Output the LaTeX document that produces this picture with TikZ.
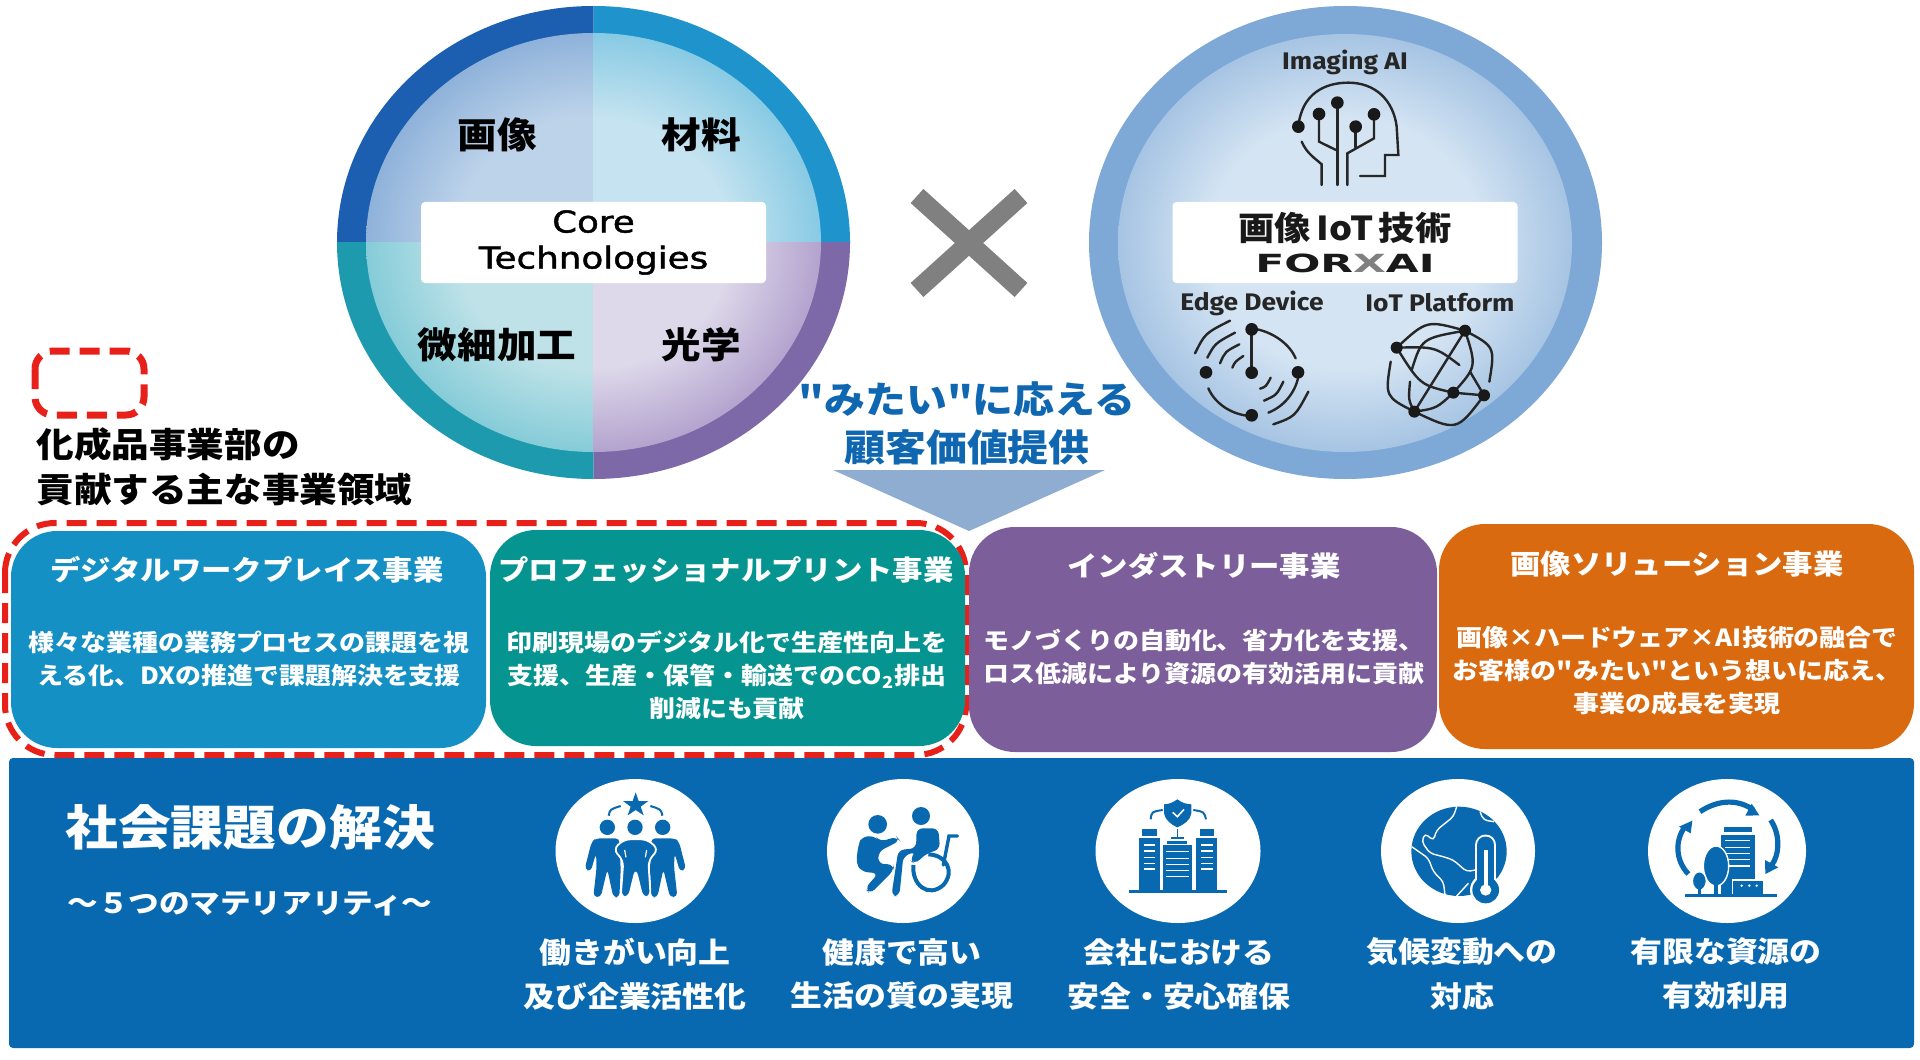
\documentclass[tikz,border=0pt]{standalone}
\usepackage{fontspec}
\usetikzlibrary{shapes.geometric}
\setmainfont{Noto Sans CJK JP}[FakeStretch=1.1]
\newfontfamily\straightfont{Noto Sans CJK JP}[FakeStretch=1.1]
\newfontfamily\corefont{DejaVu Sans}[FakeStretch=1.19, FakeBold=1.5]
\newfontfamily\aifont{Fira Sans}[FakeStretch=1.1]
\newfontfamily\forxfont{DejaVu Sans}[FakeStretch=1.7]
\newcommand{\dq}{{\straightfont"}}

\definecolor{ringtl}{HTML}{1C5FB0}
\definecolor{ringtr}{HTML}{1E93CC}
\definecolor{ringbl}{HTML}{1E9AAE}
\definecolor{ringbr}{HTML}{7D68A8}
\definecolor{tlin}{HTML}{BDD3EA}
\definecolor{tlout}{HTML}{8FB2DA}
\definecolor{trin}{HTML}{C5E3F0}
\definecolor{trout}{HTML}{88CAE4}
\definecolor{blin}{HTML}{BFE2E8}
\definecolor{blout}{HTML}{85CCD8}
\definecolor{brin}{HTML}{DDD8EA}
\definecolor{brout}{HTML}{B3A3CE}
\definecolor{forxring}{HTML}{7EA8D6}
\definecolor{forxin}{HTML}{D4E4F3}
\definecolor{forxout}{HTML}{A6C4E3}
\definecolor{barblue}{HTML}{0868B0}
\definecolor{workblue}{HTML}{1490C4}
\definecolor{printgreen}{HTML}{069490}
\definecolor{induspurple}{HTML}{7C5E9A}
\definecolor{solorange}{HTML}{D96A10}
\definecolor{reddash}{HTML}{E8201A}
\definecolor{arrowblue}{HTML}{8FADD0}
\definecolor{valueblue}{HTML}{0F67B1}

\pgfdeclareradialshading[tlin,tlout]{shtl}{\pgfpointorigin}{color(0bp)=(tlin); color(15bp)=(tlin); color(25bp)=(tlout); color(50bp)=(tlout)}
\pgfdeclareradialshading[trin,trout]{shtr}{\pgfpointorigin}{color(0bp)=(trin); color(15bp)=(trin); color(25bp)=(trout); color(50bp)=(trout)}
\pgfdeclareradialshading[blin,blout]{shbl}{\pgfpointorigin}{color(0bp)=(blin); color(15bp)=(blin); color(25bp)=(blout); color(50bp)=(blout)}
\pgfdeclareradialshading[brin,brout]{shbr}{\pgfpointorigin}{color(0bp)=(brin); color(15bp)=(brin); color(25bp)=(brout); color(50bp)=(brout)}
\pgfdeclareradialshading[forxin,forxout]{shforx}{\pgfpointorigin}{color(0bp)=(forxin); color(15bp)=(forxin); color(25bp)=(forxout); color(50bp)=(forxout)}

\tikzset{
	whitebar/.style={fill=white, rounded corners=2pt, minimum width=172.5pt, minimum height=40.5pt, inner sep=0pt},
	quadtext/.style={font=\fontsize{18}{20}\selectfont\bfseries, text=black},
	bizbox/.style={rounded corners=23pt, inner sep=0pt},
	biztitle/.style={font=\fontsize{13.8}{16}\selectfont\bfseries, text=white},
	bizbody/.style={font=\fontsize{11.8}{16.6}\selectfont\bfseries, text=white, align=center},
	areadash/.style={draw=reddash, line width=3pt, dash pattern=on 10pt off 5pt},
	iconback/.style={ellipse, fill=white, inner sep=0pt, minimum height=72pt},
	iconlabel/.style={font=\fontsize{14.5}{16}\selectfont\bfseries, text=white},
	zoomframe/.style={shift={(#1)}, x=0.16667pt, y=-0.16667pt},
	blackline/.style={draw=black!85, line width=1.2pt, line cap=round},
	blackdot/.style={fill=black!90},
	aititle/.style={font=\aifont\fontsize{12}{14}\selectfont\bfseries, text=black!85},
}

\begin{document}
\begin{tikzpicture}[x=0.5pt, y=-0.5pt]
	\useasboundingbox (0,0) rectangle (1920,1059);
	\fill[white] (0,0) rectangle (1920,1059);

	\foreach \sx/\sy/\ringc/\shd in {-1/-1/ringtl/shtl, 1/-1/ringtr/shtr, -1/1/ringbl/shbl, 1/1/ringbr/shbr}
		{\begin{scope}
			\clip (593.5,242.5) rectangle ++(\sx*300,\sy*300);
			\fill[\ringc] (593.5,242.5) ellipse [x radius=256.5, y radius=236.5];
			\shade[shading=\shd] (593.5,242.5) ellipse [x radius=227.5, y radius=209.5];
		\end{scope}}
	\node[whitebar, align=center, font=\corefont\fontsize{15}{18}\selectfont] (corebar) at (593.5,242.5) {Core\\Technologies};
	\node[quadtext] (imgtext) at (497,135) {画像};
	\node[quadtext] (mattext) at (701,135) {材料};
	\node[quadtext] (fabtext) at (497,345) {微細加工};
	\node[quadtext] (opttext) at (701,345) {光学};

	\draw[gray, line width=9.5pt] (917,196) -- (1021,290);
	\draw[gray, line width=9.5pt] (1021,196) -- (917,290);

	\fill[forxring] (1345.5,242.5) ellipse [x radius=256.5, y radius=236.5];
	\shade[shading=shforx] (1345,243) ellipse [x radius=227, y radius=209];
	\node[whitebar] (forxbar) at (1345,242.5) {};
	\node[font=\fontsize{16.5}{18}\selectfont\bfseries, text=black!90] (forxjp) at (1345,228) {画像\,IoT\,技術};
	\node[font=\forxfont\fontsize{12.5}{14}\selectfont\bfseries, text=black!90] (forxname) at (1345,263) {FOR{\color{gray}X}AI};
	\node[aititle] (aitext) at (1345,62) {Imaging AI};
	\node[aititle] (edgetext) at (1252,303) {Edge Device};
	\node[aititle] (iottext) at (1440,303) {IoT Platform};

	% head
	\begin{scope}[zoomframe={1260,70}]
		\draw[blackline] (115,170) .. controls (125,70) and (195,38) .. (265,38) .. controls (345,38) and (400,90) .. (410,170) -- (415,255) -- (375,255) -- (375,318) -- (300,318);
		\draw[blackline] (125,215) .. controls (140,250) and (165,265) .. (185,283) -- (185,345);
		\draw[blackline] (177,132) -- (177,215) -- (228,240);
		\draw[blackline] (232,98) -- (232,345);
		\draw[blackline] (287,170) -- (287,232);
		\draw[blackline] (342,133) -- (342,205) -- (262,250) -- (262,345);
		\foreach \dx/\dy in {115/170, 177/132, 232/98, 287/170, 342/133}
			{\fill[blackdot] (\dx,\dy) circle [radius=19];}
	\end{scope}

	% edge device and iot platform
	\begin{scope}[zoomframe={1180,310}]
		\draw[blackline, line width=1.6pt] (215,58) -- (215,188);
		\draw[blackline] (232,58) .. controls (285,70) and (330,105) .. (347,145);
		\draw[blackline] (85,235) .. controls (105,280) and (150,310) .. (200,317);
		\draw[blackline] (355,200) .. controls (345,250) and (310,290) .. (265,308);
		\draw[blackline] (240,236) .. controls (258,230) .. (272,203);
		\draw[blackline] (252,272) .. controls (290,255) .. (310,215);
		\draw[blackline] (280,343) .. controls (345,320) .. (385,245);
		\draw[blackline] (45,130) .. controls (75,70) .. (150,32);
		\draw[blackline] (82,143) .. controls (105,100) .. (165,68);
		\draw[blackline] (120,160) .. controls (135,125) .. (178,103);
		\draw[blackline] (157,173) .. controls (165,155) .. (190,138);
		\foreach \dx/\dy in {215/58, 215/188, 78/187, 354/187, 215/316}
			{\fill[blackdot] (\dx,\dy) circle [radius=19];}

		\draw[blackline] (650,113) .. controls (740,30) .. (855,62);
		\draw[blackline] (855,62) .. controls (945,110) .. (928,215);
		\draw[blackline] (632,155) .. controls (615,260) .. (703,305);
		\draw[blackline] (703,305) .. controls (830,365) .. (912,256);
		\draw[blackline] (855,62) -- (703,305);
		\draw[blackline] (650,113) .. controls (720,225) .. (820,248) -- (912,256);
		\draw[blackline] (855,62) .. controls (890,170) .. (820,248);
		\draw[blackline] (855,62) .. controls (725,85) .. (695,180);
		\draw[blackline] (650,113) .. controls (765,110) .. (838,165);
		\draw[blackline] (870,185) -- (912,256);
		\draw[blackline] (703,305) .. controls (770,295) .. (820,248);
		\draw[blackline] (690,215) .. controls (685,270) .. (703,305);
		\foreach \dx/\dy in {650/113, 855/62, 820/248, 912/256, 703/305}
			{\fill[blackdot] (\dx,\dy) circle [radius=18];}
	\end{scope}

	\draw[areadash, line width=3.5pt, rounded corners=9pt] (35,351) rectangle (144,415);
	\node[anchor=west, align=left, inner sep=0pt, font=\fontsize{17.1}{22.5}\selectfont\bfseries] (areatext) at (36,467) {化成品事業部の\\貢献する主な事業領域};

	\node[align=center, text=valueblue, font=\fontsize{18.6}{24}\selectfont\bfseries] (valuetext) at (967,423) {\dq みたい\dq に応える\\顧客価値提供};
	\fill[arrowblue] (833,470) -- (1105,470) -- (969,531) -- cycle;

	\draw[areadash, rounded corners=25pt] (5,523) rectangle (966,755);
	\node[bizbox, fill=workblue, minimum width=237.5pt, minimum height=108.5pt] (workbox) at (248.5,639.5) {};
	\node[bizbox, fill=printgreen, minimum width=237.5pt, minimum height=108pt] (printbox) at (727.5,638) {};
	\node[bizbox, fill=induspurple, minimum width=234pt, minimum height=112.5pt] (indusbox) at (1203,639.5) {};
	\node[bizbox, fill=solorange, minimum width=237.5pt, minimum height=112.5pt] (solbox) at (1676.5,636.5) {};
	\node[biztitle] (worktitle) at (247,570) {デジタルワークプレイス事業};
	\node[biztitle] (printtitle) at (726,570) {プロフェッショナルプリント事業};
	\node[biztitle] (industitle) at (1204,566) {インダストリー事業};
	\node[biztitle] (soltitle) at (1677,564) {画像ソリューション事業};
	\node[bizbody] (workbody) at (249,659) {様々な業種の業務プロセスの課題を視\\える化、DXの推進で課題解決を支援};
	\node[bizbody] (printbody) at (727,675) {印刷現場のデジタル化で生産性向上を\\支援、生産・保管・輸送でのCO\textsubscript{2}排出\\削減にも貢献};
	\node[bizbody] (indusbody) at (1204,657) {モノづくりの自動化、省力化を支援、\\ロス低減により資源の有効活用に貢献};
	\node[bizbody] (solbody) at (1677,671) {画像×ハードウェア×AI技術の融合で\\お客様の\dq みたい\dq という想いに応え、\\事業の成長を実現};

	\node[fill=barblue, rounded corners=2pt, inner sep=0pt, minimum width=952.5pt, minimum height=145pt] (issuebar) at (961.5,903) {};
	\node[text=white, font=\fontsize{24}{26}\selectfont\bfseries] (issuetitle) at (250,827) {社会課題の解決};
	\node[text=white, font=\fontsize{13.9}{16}\selectfont\bfseries] (issuesub) at (250,904) {～５つのマテリアリティ～};

	\foreach \cname/\cx/\rx/\lx/\linea/\lineb in {icwork/635/79.5/635/働きがい向上/及び企業活性化, ichealth/903/76/902/健康で高い/生活の質の実現, icsafe/1178/82.5/1179/会社における/安全・安心確保, icclimate/1458/77/1462/気候変動への/対応, icresource/1727/79/1726/有限な資源の/有効利用}
		{\node[iconback, minimum width=\rx pt] (\cname) at (\cx,851) {};
		\node[iconlabel] (\cname top) at (\lx,952) {\linea};
		\node[iconlabel] (\cname bot) at (\lx,996) {\lineb};}

	% people and wheelchair
	\begin{scope}[zoomframe={550,770}, barblue]
		\fill (257,67) -- (266,93) -- (295,93) -- (272,110) -- (281,136) -- (257,120) -- (233,136) -- (242,110) -- (219,93) -- (248,93) -- cycle;
		\draw[line width=1pt] (176,137) .. controls (180,118) .. (212,108);
		\draw[line width=1pt] (301,108) .. controls (333,118) .. (337,137);
		\foreach \hx in {172,255,338}
			{\fill (\hx,172) circle [radius=23];}
		\fill[rounded corners=2pt] (138,205) -- (208,205) -- (212,300) -- (208,382) -- (190,382) -- (172,298) -- (152,382) -- (130,380) -- (140,290) -- (138,250) -- (122,305) -- (104,297) -- (125,215) -- cycle;
		\fill[rounded corners=2pt] (374,205) -- (304,205) -- (300,300) -- (304,382) -- (322,382) -- (340,298) -- (360,382) -- (382,380) -- (372,290) -- (374,250) -- (390,305) -- (408,297) -- (387,215) -- cycle;
		\filldraw[draw=white, line width=.9pt, rounded corners=3pt] (222,208) -- (292,208) -- (325,238) -- (295,272) -- (302,382) -- (278,384) -- (257,298) -- (236,384) -- (212,382) -- (220,272) -- (190,238) -- cycle;
		\draw[white, line width=.6pt] (224,240) -- (228,262) (290,240) -- (286,262);

		\fill (983,163) circle [radius=28];
		\fill (1113,138) circle [radius=27];
		\fill[rounded corners=3pt] (935,200) -- (975,198) -- (990,215) -- (1040,200) -- (1050,212) -- (985,245) -- (985,282) -- (1030,283) -- (1032,300) -- (960,372) -- (945,355) -- (985,310) -- (935,305) -- (918,280) -- (925,225) -- cycle;
		\fill[rounded corners=3pt] (1100,175) -- (1165,175) -- (1170,238) -- (1130,250) -- (1095,282) -- (1078,270) -- (1098,245) -- (1060,258) -- (1048,378) -- (1024,378) -- (1045,240) -- (1098,235) -- cycle;
		\draw[line width=2pt] (1090,285) .. controls (1085,345) and (1135,385) .. (1180,345) .. controls (1215,305) and (1190,255) .. (1135,253);
		\draw[line width=1.7pt, line cap=round] (1222,198) -- (1197,198) -- (1180,285);
	\end{scope}

	% towers and globe
	\begin{scope}[zoomframe={1090,770}, barblue]
		\fill (262,88) .. controls (245,100) and (235,102) .. (222,103) -- (222,130) .. controls (225,150) and (245,165) .. (262,172) .. controls (280,165) and (302,150) .. (304,130) -- (304,103) .. controls (290,102) and (278,100) .. (262,88) -- cycle;
		\draw[white, line width=.8pt] (248,127) -- (262,140) -- (282,118);
		\draw[line width=1pt] (182,148) .. controls (185,125) .. (218,120);
		\draw[line width=1pt] (310,120) .. controls (342,125) .. (348,148);
		\draw[line width=.8pt] (262,178) -- (262,202);
		\fill (243,200) rectangle (283,208);
		\fill (157,176) rectangle (200,198);
		\fill (330,176) rectangle (373,198);
		\fill (148,205) rectangle (210,360);
		\fill (318,205) rectangle (380,360);
		\fill (232,212) rectangle (292,222);
		\fill (220,225) rectangle (305,360);
		\draw[line width=1.2pt] (118,365) -- (410,365);
		\foreach \wy in {225,243,262,280,297}
			{\draw[white, line width=.7pt] (162,\wy) -- (195,\wy) (333,\wy) -- (368,\wy);}
		\foreach \wy in {245,265,283,302,320}
			{\draw[white, line width=.7pt] (228,\wy) -- (298,\wy);}

		\fill (1107,244) ellipse [x radius=143, y radius=134];
		\draw[white, line width=.7pt, rounded corners=2pt] (1100,110) -- (1090,140) -- (1040,180) -- (1030,212) -- (1005,190) -- (995,215) -- (1020,250) -- (1060,260) -- (1090,270) -- (1130,305) -- (1155,300);
		\draw[white, line width=.7pt, rounded corners=2pt] (965,230) -- (1015,265) -- (1030,305) -- (1060,335) -- (1065,375);
		\draw[white, line width=.7pt, rounded corners=2pt] (1135,340) -- (1100,378);
		\draw[white, line width=.7pt, rounded corners=2pt] (1170,125) -- (1180,150) -- (1212,155);
		\fill[white] (1187,360) circle [radius=47];
		\draw[white, line width=10.5pt, line cap=round] (1187,225) -- (1187,350);
		\fill (1187,360) circle [radius=40];
		\draw[barblue, line width=8.5pt, line cap=round] (1187,225) -- (1187,350);
		\draw[white, line width=2pt] (1187,240) -- (1187,350);
		\fill[white] (1187,360) circle [radius=17];
	\end{scope}

	% city and recycling arrows
	\begin{scope}[zoomframe={1640,770}, barblue]
		\draw[line width=2.6pt] (180,125) .. controls (240,85) and (300,90) .. (340,120);
		\fill (358,136) -- (335,101) -- (316,137) -- cycle;
		\draw[line width=2.6pt] (392,150) .. controls (425,200) and (415,260) .. (395,285);
		\fill (376,312) -- (375,270) -- (415,292) -- cycle;
		\draw[line width=2.6pt] (145,312) .. controls (105,270) and (105,210) .. (135,170);
		\fill (157,152) -- (117,170) -- (152,190) -- cycle;
		\fill (253,172) rectangle (335,187);
		\fill (243,195) rectangle (345,375);
		\foreach \wy in {212,232,250,268,288}
			{\draw[white, line width=.7pt] (255,\wy) -- (330,\wy);}
		\filldraw[draw=white, line width=.7pt] (228,288) ellipse [x radius=38, y radius=60];
		\draw[line width=1.6pt] (228,330) -- (228,376);
		\filldraw[draw=white, line width=.7pt] (178,333) ellipse [x radius=21, y radius=28];
		\draw[line width=1.2pt] (178,350) -- (178,376);
		\filldraw[draw=white, line width=.7pt] (278,330) rectangle (372,376);
		\foreach \wx in {305,328,350}
			{\fill[white] (\wx,347) circle [radius=4];}
		\draw[line width=1.2pt] (135,377) -- (412,377);
	\end{scope}
\end{tikzpicture}
\end{document}
